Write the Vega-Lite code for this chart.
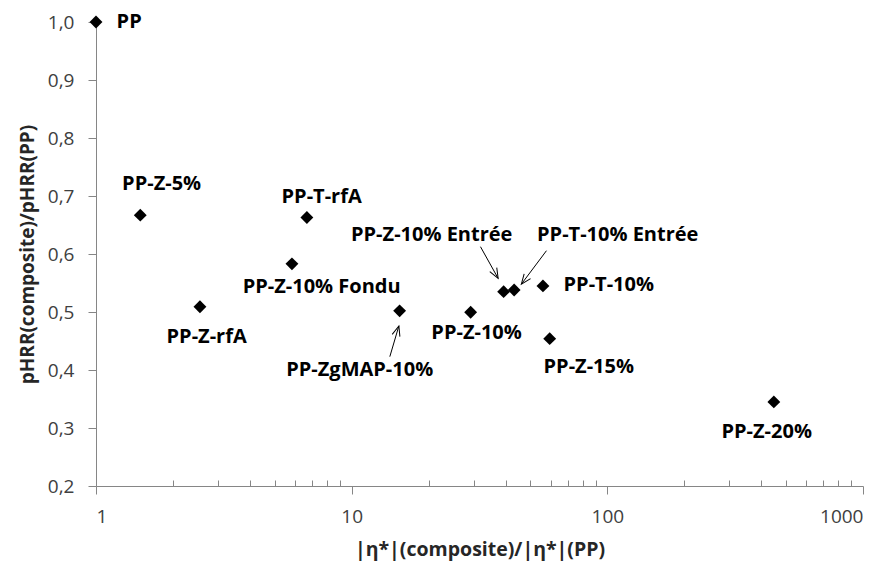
{
  "$schema": "https://vega.github.io/schema/vega-lite/v6.json",
  "width": 767,
  "height": 464,
  "autosize": {"type": "none"},
  "padding": {"left": 96, "top": 22, "right": 25, "bottom": 82},
  "background": "white",
  "config": {"view": {"stroke": null}, "font": "Open Sans"},
  "datasets": {
    "points": [
      {"name": "PP", "x": 1.0, "y": 1.0, "lx": 1.348, "ly": 1.0},
      {"name": "PP-Z-5%", "x": 1.49, "y": 0.667, "lx": 1.806, "ly": 0.7207},
      {"name": "PP-Z-rfA", "x": 2.55, "y": 0.509, "lx": 2.708, "ly": 0.4569},
      {"name": "PP-T-rfA", "x": 6.68, "y": 0.663, "lx": 7.63, "ly": 0.6983},
      {"name": "PP-Z-10% Fondu", "x": 5.84, "y": 0.583, "lx": 7.63, "ly": 0.5431},
      {"name": "PP-ZgMAP-10%", "x": 15.4, "y": 0.502, "lx": 10.75, "ly": 0.4},
      {"name": "PP-Z-10%", "x": 29.2, "y": 0.4995, "lx": 30.8, "ly": 0.4638},
      {"name": "PP-Z-10% Entrée", "x": 39.3, "y": 0.535, "lx": 20.56, "ly": 0.6328},
      {"name": "PP-T-10% Entrée", "x": 43.2, "y": 0.538, "lx": 109.8, "ly": 0.6328},
      {"name": "PP-T-10%", "x": 56.0, "y": 0.545, "lx": 101.3, "ly": 0.5466},
      {"name": "PP-Z-15%", "x": 59.5, "y": 0.454, "lx": 84.6, "ly": 0.405},
      {"name": "PP-Z-20%", "x": 448, "y": 0.345, "lx": 420, "ly": 0.293}
    ],
    "arrows": [
      {"tx": 31.9, "ty": 0.6126, "hx": 37.4, "hy": 0.558},
      {"tx": 57.8, "ty": 0.6057, "hx": 46.1, "hy": 0.548},
      {"tx": 14.1, "ty": 0.423, "hx": 15.3, "hy": 0.476}
    ]
  },
  "layer": [
    {
      "data": {"name": "points"},
      "mark": {"type": "point", "shape": "diamond", "filled": true, "color": "black", "size": 165, "opacity": 1},
      "encoding": {
        "x": {
          "field": "x", "type": "quantitative",
          "scale": {"type": "log", "domain": [1, 1000], "nice": false},
          "axis": {
            "orient": "bottom",
            "values": [1, 10, 100, 1000],
            "format": "d",
            "grid": false,
            "domainColor": "#868686",
            "tickColor": "#868686",
            "tickSize": 8,
            "labelPadding": 13,
            "labelFontSize": 19,
            "labelColor": "#404040",
            "labelFont": "Open Sans",
            "title": "|η*|(composite)/|η*|(PP)",
            "titleFont": "Open Sans",
            "titleFontSize": 19.5,
            "titleFontWeight": "bold",
            "titleColor": "#262626",
            "titlePadding": 14
          }
        },
        "y": {
          "field": "y", "type": "quantitative",
          "scale": {"domain": [0.2, 1.0], "nice": false, "zero": false},
          "axis": {
            "values": [0.2, 0.3, 0.4, 0.5, 0.6, 0.7, 0.8, 0.9, 1.0],
            "labelExpr": "replace(format(datum.value, '.1f'), '.', ',')",
            "grid": false,
            "domainColor": "#868686",
            "tickColor": "#868686",
            "tickSize": 8,
            "labelPadding": 14,
            "labelFontSize": 19,
            "labelColor": "#404040",
            "labelFont": "Open Sans",
            "title": "pHRR(composite)/pHRR(PP)",
            "titleFont": "Open Sans",
            "titleFontSize": 19,
            "titleFontWeight": "bold",
            "titleColor": "#262626",
            "titlePadding": 10
          }
        }
      }
    },
    {
      "data": {"name": "points"},
      "mark": {"type": "point", "opacity": 0},
      "encoding": {
        "x": {
          "field": "x", "type": "quantitative",
          "axis": {
            "orient": "bottom",
            "values": [2, 3, 4, 5, 6, 7, 8, 9, 20, 30, 40, 50, 60, 70, 80, 90, 200, 300, 400, 500, 600, 700, 800, 900],
            "labels": false,
            "domain": false,
            "grid": false,
            "tickColor": "#868686",
            "tickSize": -6,
            "title": null
          }
        },
        "y": {"field": "y", "type": "quantitative"}
      }
    },
    {
      "data": {"name": "points"},
      "mark": {"type": "text", "font": "Open Sans", "fontWeight": "bold", "fontSize": 20, "color": "black", "align": "center", "baseline": "middle"},
      "encoding": {
        "x": {"field": "lx", "type": "quantitative", "axis": null},
        "y": {"field": "ly", "type": "quantitative"},
        "text": {"field": "name"}
      }
    },
    {
      "data": {"name": "arrows"},
      "mark": {"type": "rule", "color": "black", "strokeWidth": 1},
      "encoding": {
        "x": {"field": "tx", "type": "quantitative", "axis": null},
        "y": {"field": "ty", "type": "quantitative"},
        "x2": {"field": "hx"},
        "y2": {"field": "hy"}
      }
    },
    {
      "data": {"name": "arrows"},
      "transform": [
        {"calculate": "atan2(255.67*(log(datum.hx)-log(datum.tx))/LN10, 580*(datum.hy-datum.ty))*180/PI", "as": "ang"}
      ],
      "mark": {"type": "point", "shape": "M-0.4,1L0,0L0.4,1", "filled": false, "stroke": "black", "strokeWidth": 1, "size": 400, "opacity": 1},
      "encoding": {
        "x": {"field": "hx", "type": "quantitative", "axis": null},
        "y": {"field": "hy", "type": "quantitative"},
        "angle": {"field": "ang", "type": "quantitative", "scale": null}
      }
    }
  ],
  "resolve": {"axis": {"x": "independent"}}
}
